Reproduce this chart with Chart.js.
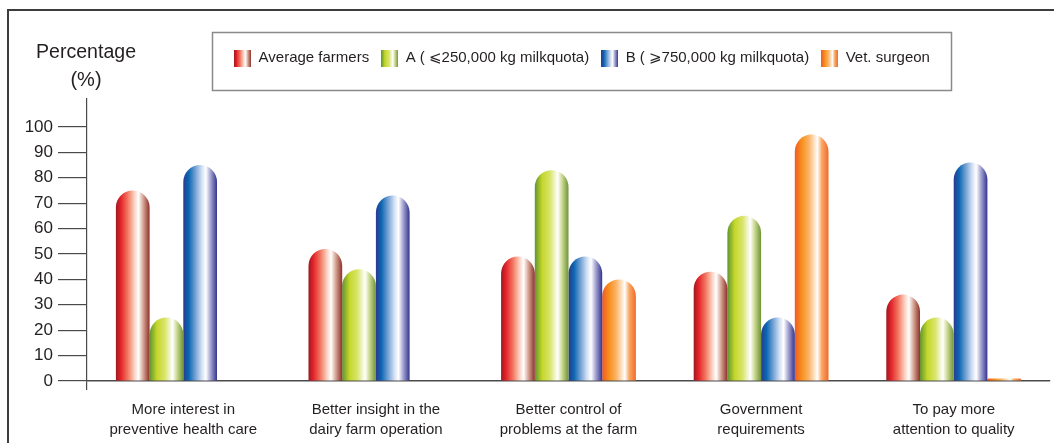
<!DOCTYPE html>
<html>
<head>
<meta charset="utf-8">
<script src="https://cdn.jsdelivr.net/npm/chart.js@4.4.1/dist/chart.umd.min.js"></script>
<style>
  html, body { margin: 0; padding: 0; background: #ffffff; }
  #wrap { position: relative; width: 1054px; height: 443px; overflow: hidden; }
  #frame { position: absolute; left: 7px; top: 9px; width: 1060px; height: 440px;
           border-top: 2px solid #3d3d3d; border-left: 2px solid #3d3d3d; box-sizing: border-box; pointer-events: none; }
  canvas { position: absolute; left: 0; top: 0; }
</style>
</head>
<body>
<div id="wrap">
  <canvas id="c" width="1054" height="443"></canvas>
  <div id="frame"></div>
</div>
<script>
// ---- data ----
const categories = [
  ['More interest in', 'preventive health care'],
  ['Better insight in the', 'dairy farm operation'],
  ['Better control of', 'problems at the farm'],
  ['Government', 'requirements'],
  ['To pay more', 'attention to quality']
];
const seriesNames = [
  'Average farmers',
  'A ( \u2A7D250,000 kg milkquota)',
  'B ( \u2A7E750,000 kg milkquota)',
  'Vet. surgeon'
];
const averageFarmers = [75, 52, 49, 43, 34];
const groupA = [25, 44, 83, 65, 25];
const groupB = [85, 73, 49, 25, 86];
const vetSurgeon = [null, null, 40, 97, 1];
const yTicks = [0, 10, 20, 30, 40, 50, 60, 70, 80, 90, 100];

// ---- styling ----
const gradientStops = [
  [[0, '#9b1a1f'], [0.14, '#e3222a'], [0.35, '#f2765f'], [0.55, '#fbd2c3'], [0.67, '#ffffff'], [0.8, '#d8aa9a'], [1, '#8e3028']],
  [[0, '#5f9530'], [0.22, '#c5d72b'], [0.45, '#d9e46a'], [0.58, '#eef3c0'], [0.68, '#ffffff'], [0.8, '#cfdc98'], [1, '#6f9436']],
  [[0, '#2b3990'], [0.16, '#0a66b2'], [0.38, '#7fa8d8'], [0.55, '#d4e1f3'], [0.67, '#ffffff'], [0.8, '#a9a8d4'], [1, '#33348e']],
  [[0, '#f15a24'], [0.22, '#f7931e'], [0.42, '#fbb46a'], [0.56, '#fdddb9'], [0.67, '#ffffff'], [0.8, '#f9a865'], [1, '#f26a2a']]
];
const solidColors = ['#e3222a', '#c5d72b', '#0a66b2', '#f7931e'];
const CAT_PCT = 0.70;
const FONT = "'Liberation Sans', 'DejaVu Sans', Arial, sans-serif";
const TEXT = '#231f20';

function barGradient(si) {
  return (c) => {
    const chart = c.chart;
    const xs = chart.scales && chart.scales.x;
    if (!xs || c.type !== 'data' || !xs.width) return solidColors[si];
    const center = xs.getPixelForValue(c.dataIndex);
    const catW = xs.width / categories.length;
    const slot = catW * CAT_PCT / seriesNames.length;
    const left = center - catW * CAT_PCT / 2 + slot * c.datasetIndex;
    const g = chart.ctx.createLinearGradient(left, 0, left + slot, 0);
    gradientStops[si].forEach(([o, col]) => g.addColorStop(o, col));
    return g;
  };
}

function swatch(si) {
  const cv = document.createElement('canvas');
  cv.width = 17; cv.height = 17;
  const x = cv.getContext('2d');
  const g = x.createLinearGradient(0, 0, 17, 0);
  gradientStops[si].forEach(([o, col]) => g.addColorStop(o, col));
  x.fillStyle = g;
  x.fillRect(0, 0, 17, 17);
  return cv;
}

const seriesData = [averageFarmers, groupA, groupB, vetSurgeon];

const placePlugin = {
  id: 'place',
  beforeDraw(chart) {
    const t = chart.titleBlock;
    if (t) { t.left = 36; t.right = 136; t.width = 100; t.top = 38; }
    const l = chart.legend;
    if (l) { l.left = 212; l.right = 952; l.width = 740; l.top = 38.5; l.bottom = 91; }
  },
  afterDraw(chart) {
    const ctx = chart.ctx;
    ctx.save();
    ctx.strokeStyle = '#8a8a8a';
    ctx.lineWidth = 1.5;
    ctx.strokeRect(212.5, 32.5, 739, 58);
    ctx.restore();
  }
};

new Chart(document.getElementById('c'), {
  type: 'bar',
  data: {
    labels: categories,
    datasets: seriesData.map((d, i) => ({
      label: seriesNames[i],
      data: d,
      backgroundColor: barGradient(i),
      borderWidth: 0,
      borderRadius: { topLeft: 17, topRight: 17, bottomLeft: 0, bottomRight: 0 },
      borderSkipped: 'start',
      barPercentage: 1.0,
      categoryPercentage: CAT_PCT
    }))
  },
  plugins: [placePlugin],
  options: {
    responsive: false,
    animation: false,
    events: [],
    layout: { padding: { left: 7, right: 4, top: 6, bottom: 5 } },
    plugins: {
      tooltip: { enabled: false },
      title: {
        display: true,
        text: ['Percentage', '(%)'],
        align: 'center',
        color: TEXT,
        padding: 0,
        font: { family: FONT, size: 20, weight: 'normal', lineHeight: 1.4 }
      },
      legend: {
        display: true,
        position: 'top',
        align: 'center',
        labels: {
          usePointStyle: true,
          pointStyleWidth: 17,
          boxHeight: 17,
          padding: 12,
          color: TEXT,
          font: { family: FONT, size: 15 },
          generateLabels: (chart) => chart.data.datasets.map((ds, i) => ({
            text: ds.label,
            pointStyle: swatch(i),
            fillStyle: 'transparent',
            strokeStyle: 'transparent',
            lineWidth: 0,
            hidden: false,
            datasetIndex: i,
            fontColor: TEXT
          }))
        }
      }
    },
    scales: {
      x: {
        offset: true,
        afterFit: (s) => { s.height = 57; },
        grid: {
          display: true,
          drawOnChartArea: false,
          tickLength: 9,
          color: (c) => (c.index === 0 ? '#4a4a4a' : 'rgba(0,0,0,0)'),
          lineWidth: 1.2
        },
        border: { display: true, color: '#4a4a4a', width: 1.5 },
        ticks: {
          color: TEXT,
          padding: 10,
          maxRotation: 0,
          autoSkip: false,
          font: { family: FONT, size: 15, lineHeight: 1.33 }
        }
      },
      y: {
        min: 0,
        max: 111,
        afterBuildTicks: (s) => { s.ticks = yTicks.map(v => ({ value: v })); },
        afterFit: (s) => { s.width = 80; },
        grid: {
          display: true,
          drawOnChartArea: false,
          tickLength: 29,
          color: '#4a4a4a',
          lineWidth: 1.2
        },
        border: { display: true, color: '#4a4a4a', width: 1.2 },
        ticks: {
          color: TEXT,
          padding: 5,
          font: { family: FONT, size: 17 }
        }
      }
    }
  }
});
</script>
</body>
</html>
